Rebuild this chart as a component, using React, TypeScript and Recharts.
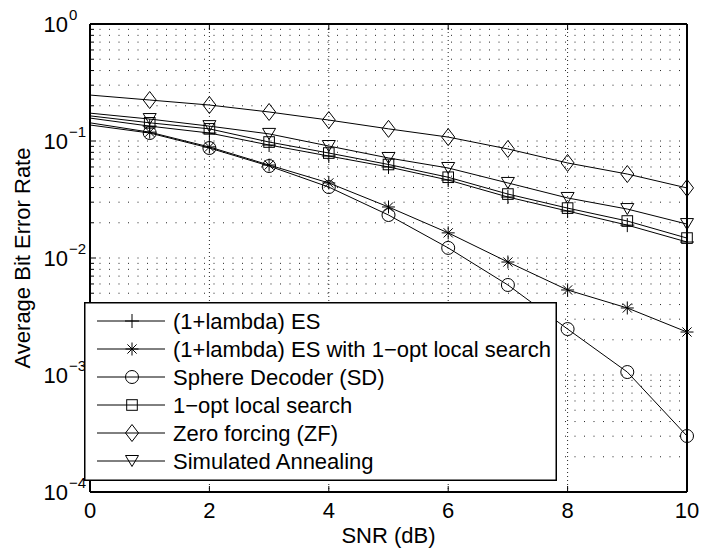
import { LineChart, Line, XAxis, YAxis, CartesianGrid, Legend, Label } from "recharts";

const snr = [0, 1, 2, 3, 4, 5, 6, 7, 8, 9, 10];

// BER values (log scale)
const esPlain = [0.157, 0.134, 0.117, 0.0924, 0.0744, 0.06, 0.0464, 0.0332, 0.0252, 0.0191, 0.0137];
const esLocal = [0.143, 0.119, 0.0889, 0.0623, 0.0438, 0.0273, 0.0164, 0.00924, 0.00533, 0.00374, 0.00233];
const sphere = [0.137, 0.117, 0.0871, 0.0611, 0.0404, 0.0233, 0.0122, 0.00588, 0.00247, 0.00106, 0.000301];
const localSearch = [0.164, 0.143, 0.127, 0.098, 0.0789, 0.063, 0.049, 0.0352, 0.0267, 0.0207, 0.0148];
const zeroForcing = [0.247, 0.224, 0.203, 0.177, 0.151, 0.127, 0.108, 0.0855, 0.0649, 0.0522, 0.0397];
const annealing = [0.173, 0.154, 0.134, 0.115, 0.0906, 0.0716, 0.0588, 0.0438, 0.0326, 0.0262, 0.0195];

const xTicks = [0, 2, 4, 6, 8, 10];
const xGrid = [2, 4, 6, 8];
const yTicks = [
  0.0001, 0.0002, 0.0003, 0.0004, 0.0005, 0.0006, 0.0007, 0.0008, 0.0009,
  0.001, 0.002, 0.003, 0.004, 0.005, 0.006, 0.007, 0.008, 0.009,
  0.01, 0.02, 0.03, 0.04, 0.05, 0.06, 0.07, 0.08, 0.09,
  0.1, 0.2, 0.3, 0.4, 0.5, 0.6, 0.7, 0.8, 0.9,
  1,
];

type Shape = "plus" | "star" | "circle" | "square" | "diamond" | "triangle";

const series: { key: string; name: string; shape: Shape; values: number[] }[] = [
  { key: "esPlain", name: "(1+lambda) ES", shape: "plus", values: esPlain },
  { key: "esLocal", name: "(1+lambda) ES with 1\u2212opt local search", shape: "star", values: esLocal },
  { key: "sphere", name: "Sphere Decoder (SD)", shape: "circle", values: sphere },
  { key: "localSearch", name: "1\u2212opt local search", shape: "square", values: localSearch },
  { key: "zeroForcing", name: "Zero forcing (ZF)", shape: "diamond", values: zeroForcing },
  { key: "annealing", name: "Simulated Annealing", shape: "triangle", values: annealing },
];

const data = snr.map((s, i) => {
  const row: Record<string, number> = { snr: s };
  series.forEach((sr) => (row[sr.key] = sr.values[i]));
  return row;
});

const FONT = "'Liberation Sans', Arial, Helvetica, sans-serif";

function Marker({ shape, cx, cy }: { shape: Shape; cx: number; cy: number }) {
  const st = { stroke: "#000", strokeWidth: 1, fill: "none" };
  switch (shape) {
    case "plus":
      return (
        <g {...st}>
          <line x1={cx - 7} x2={cx + 7} y1={cy} y2={cy} />
          <line x1={cx} x2={cx} y1={cy - 7} y2={cy + 7} />
        </g>
      );
    case "star":
      return (
        <g {...st}>
          <line x1={cx - 6.5} x2={cx + 6.5} y1={cy} y2={cy} />
          <line x1={cx} x2={cx} y1={cy - 6.5} y2={cy + 6.5} />
          <line x1={cx - 4.6} x2={cx + 4.6} y1={cy - 4.6} y2={cy + 4.6} />
          <line x1={cx - 4.6} x2={cx + 4.6} y1={cy + 4.6} y2={cy - 4.6} />
        </g>
      );
    case "circle":
      return <circle cx={cx} cy={cy} r={6.5} {...st} />;
    case "square":
      return <rect x={cx - 5.3} y={cy - 5.3} width={10.6} height={10.6} {...st} />;
    case "diamond":
      return (
        <polygon
          points={`${cx},${cy - 8.5} ${cx + 6.5},${cy} ${cx},${cy + 8.5} ${cx - 6.5},${cy}`}
          {...st}
        />
      );
    default:
      return (
        <polygon
          points={`${cx - 6.5},${cy - 5.5} ${cx + 6.5},${cy - 5.5} ${cx},${cy + 5.5}`}
          {...st}
        />
      );
  }
}

function isDecade(v: number) {
  const l = Math.log10(v);
  return Math.abs(l - Math.round(l)) < 1e-6;
}

const LeftTick = (props: any) => {
  const { x, y, payload } = props;
  const v = payload.value;
  const major = isDecade(v);
  const e = Math.round(Math.log10(v));
  return (
    <g>
      <line x1={x} x2={x + (major ? 6 : 4)} y1={y} y2={y} stroke="#000" />
      {major && (
        <text fontFamily={FONT} fill="#000">
          <tspan x={x - 22} y={y + 8} fontSize={22} textAnchor="end">
            10
          </tspan>
          <tspan x={x - 21} y={y - 4} fontSize={15} textAnchor="start">
            {e === 0 ? "0" : "\u2212" + Math.abs(e)}
          </tspan>
        </text>
      )}
    </g>
  );
};

const RightTick = (props: any) => {
  const { x, y, payload } = props;
  const major = isDecade(payload.value);
  return <line x1={x} x2={x - (major ? 6 : 4)} y1={y} y2={y} stroke="#000" />;
};

const BottomTick = (props: any) => {
  const { x, y, payload } = props;
  return (
    <g>
      <line x1={x} x2={x} y1={y} y2={y - 6} stroke="#000" />
      <text x={x} y={y + 26} textAnchor="middle" fontSize={22} fontFamily={FONT} fill="#000">
        {payload.value}
      </text>
    </g>
  );
};

const TopTick = (props: any) => {
  const { x, y } = props;
  return <line x1={x} x2={x} y1={y} y2={y + 6} stroke="#000" />;
};

const XTitle = (props: any) => {
  const vb = props.viewBox;
  return (
    <text
      x={vb.x + vb.width / 2}
      y={vb.y + 51}
      textAnchor="middle"
      fontSize={22}
      fontFamily={FONT}
      fill="#000"
    >
      SNR (dB)
    </text>
  );
};

const YTitle = (props: any) => {
  const vb = props.viewBox;
  const cx = vb.x + 22;
  const cy = vb.y + vb.height / 2;
  return (
    <text
      x={cx}
      y={cy + 8}
      transform={`rotate(-90, ${cx}, ${cy})`}
      textAnchor="middle"
      fontSize={22}
      fontFamily={FONT}
      fill="#000"
    >
      Average Bit Error Rate
    </text>
  );
};

function LegendBox() {
  const rowH = 28;
  return (
    <svg width={473} height={179} style={{ display: "block" }}>
      <rect x={0.75} y={0.75} width={471.5} height={177.5} fill="#fff" stroke="#000" strokeWidth={1.5} />
      {series.map((s, i) => {
        const cy = 19 + i * rowH;
        return (
          <g key={s.key}>
            <line x1={13} x2={81} y1={cy} y2={cy} stroke="#000" strokeWidth={1} />
            <Marker shape={s.shape} cx={48} cy={cy} />
            <text x={89} y={cy + 8} fontSize={22} fontFamily={FONT} fill="#000">
              {s.name}
            </text>
          </g>
        );
      })}
    </svg>
  );
}

const axisLine = { stroke: "#000", strokeWidth: 2 };

export default function App() {
  return (
    <div style={{ position: "absolute", left: 0, top: 0, background: "#fff" }}>
      <LineChart width={701} height={552} data={data} margin={{ top: 0, right: 0, bottom: 0, left: 0 }}>
        <CartesianGrid
          xAxisId="bottom"
          yAxisId="left"
          vertical={false}
          horizontalValues={yTicks}
          stroke="#222"
          strokeDasharray="1 8.5"
        />
        <CartesianGrid
          xAxisId="bottom"
          yAxisId="left"
          horizontal={false}
          verticalValues={xGrid}
          stroke="#222"
          strokeDasharray="1 3"
        />
        <XAxis
          xAxisId="bottom"
          dataKey="snr"
          type="number"
          domain={[0, 10]}
          ticks={xTicks}
          interval={0}
          height={60}
          tickSize={0}
          tickMargin={0}
          tickLine={false}
          axisLine={axisLine}
          tick={BottomTick}
        >
          <Label content={XTitle} />
        </XAxis>
        <XAxis
          xAxisId="top"
          orientation="top"
          dataKey="snr"
          type="number"
          domain={[0, 10]}
          ticks={xTicks}
          interval={0}
          height={24}
          tickSize={0}
          tickMargin={0}
          tickLine={false}
          axisLine={axisLine}
          tick={TopTick}
        />
        <YAxis
          yAxisId="left"
          type="number"
          scale="log"
          domain={[0.0001, 1]}
          ticks={yTicks}
          interval={0}
          width={90}
          tickSize={0}
          tickMargin={0}
          tickLine={false}
          axisLine={axisLine}
          tick={LeftTick}
        >
          <Label content={YTitle} />
        </YAxis>
        <YAxis
          yAxisId="right"
          orientation="right"
          type="number"
          scale="log"
          domain={[0.0001, 1]}
          ticks={yTicks}
          interval={0}
          width={14}
          tickSize={0}
          tickMargin={0}
          tickLine={false}
          axisLine={axisLine}
          tick={RightTick}
        />
        {series.map((s) => (
          <Line
            key={s.key}
            xAxisId="bottom"
            yAxisId="left"
            type="linear"
            dataKey={s.key}
            name={s.name}
            stroke="#000"
            strokeWidth={1}
            isAnimationActive={false}
            activeDot={false}
            dot={(p: any) =>
              p.payload.snr === 0 ? (
                <g key={`${s.key}-${p.index}`} />
              ) : (
                <g key={`${s.key}-${p.index}`}>
                  <Marker shape={s.shape} cx={p.cx} cy={p.cy} />
                </g>
              )
            }
          />
        ))}
        <Legend
          layout="vertical"
          align="center"
          verticalAlign="middle"
          width={473}
          height={179}
          wrapperStyle={{ left: 84, top: 302, width: 473, height: 179, margin: 0, padding: 0 }}
          content={() => <LegendBox />}
        />
      </LineChart>
    </div>
  );
}
